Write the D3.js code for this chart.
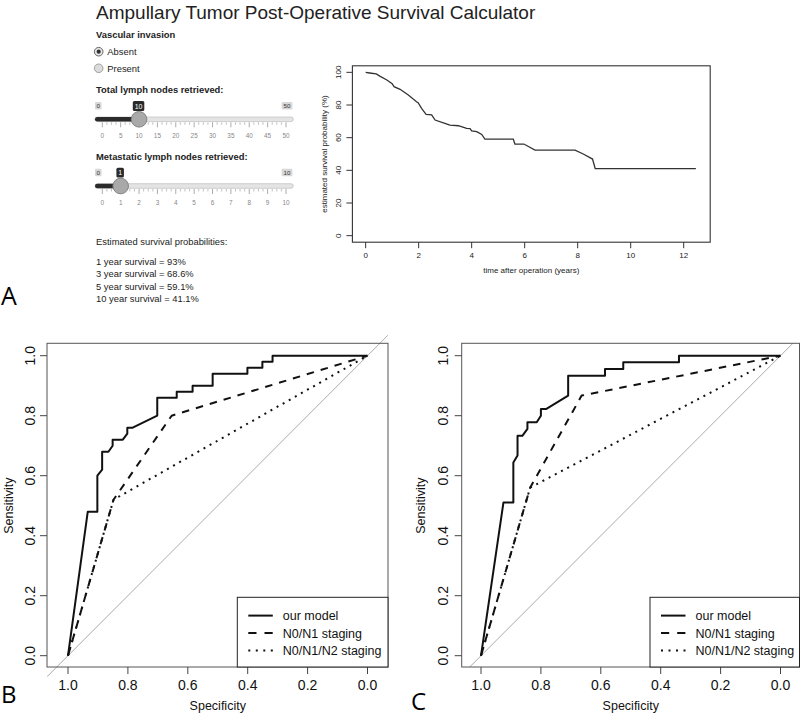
<!DOCTYPE html>
<html><head><meta charset="utf-8">
<script src="https://cdn.jsdelivr.net/npm/d3@7"></script>
<style>
body{margin:0;background:#fff}
svg{display:block}
text{font-family:"Liberation Sans",Arial,Helvetica,sans-serif}
</style>
</head><body>
<svg id="fig" width="800" height="716"></svg>
<script>
// ---------------- DATA ----------------
const titleText = "Ampullary Tumor Post-Operative Survival Calculator";
const radioLabel = "Vascular invasion";
const radioOptions = ["Absent", "Present"];
const radioSelected = 0;

const slider1Label = "Total lymph nodes retrieved:";
const slider1Ticks = [0,5,10,15,20,25,30,35,40,45,50];
const slider1Value = 10;
const slider2Label = "Metastatic lymph nodes retrieved:";
const slider2Ticks = [0,1,2,3,4,5,6,7,8,9,10];
const slider2Value = 1;

const probHeader = "Estimated survival probabilities:";
const probLines = ["1 year survival = 93%", "3 year survival = 68.6%", "5 year survival = 59.1%", "10 year survival = 41.1%"];

const survTime = [0, 0.15, 0.4, 0.55, 0.8, 1.0, 1.07, 1.3, 1.61, 1.92, 1.98, 2.11, 2.28, 2.49, 2.62, 2.99, 3.18, 3.5, 3.81, 3.94, 4.0, 4.19, 4.38, 4.5, 5.57, 5.63, 5.97, 6.39, 7.9, 8.21, 8.56, 8.66, 12.46];
const survProb = [100, 99.6, 99, 97.5, 95.3, 93, 91.2, 89.6, 86.1, 82.0, 81.4, 78.0, 74.3, 73.9, 70.8, 68.8, 67.7, 67.3, 65.7, 65.5, 64.1, 63.7, 62.0, 59.1, 59.1, 56.1, 56.1, 52.4, 52.4, 50.0, 46.9, 41.1, 41.1];
const survXTicks = [0,2,4,6,8,10,12];
const survYTicks = [0,20,40,60,80,100];
const survXLabel = "time after operation (years)";
const survYLabel = "estimated survival probability (%)";

const rocTicks = [1.0,0.8,0.6,0.4,0.2,0.0];
const legendLabels = ["our model", "N0/N1 staging", "N0/N1/N2 staging"];

// panel B  [specificity, sensitivity]
const rocBModel = [[1.0,0.0],[0.934,0.48],[0.902,0.48],[0.902,0.60],[0.886,0.62],[0.886,0.68],[0.865,0.68],[0.851,0.70],[0.851,0.72],[0.817,0.72],[0.802,0.74],[0.802,0.76],[0.784,0.76],[0.702,0.80],[0.702,0.86],[0.637,0.86],[0.637,0.88],[0.584,0.88],[0.584,0.90],[0.517,0.90],[0.517,0.94],[0.401,0.94],[0.401,0.96],[0.351,0.96],[0.351,0.98],[0.317,0.98],[0.317,1.0],[0.0,1.0]];
const rocBN01 = [[1.0,0.0],[0.848,0.52],[0.654,0.80],[0.0,1.0]];
const rocBN012 = [[1.0,0.0],[0.848,0.52],[0.0,1.0]];
// panel C
const rocCModel = [[1.0,0.0],[0.925,0.511],[0.892,0.511],[0.892,0.644],[0.878,0.667],[0.878,0.733],[0.862,0.733],[0.845,0.756],[0.845,0.778],[0.814,0.778],[0.800,0.800],[0.800,0.822],[0.783,0.822],[0.709,0.867],[0.709,0.933],[0.586,0.933],[0.586,0.956],[0.525,0.956],[0.525,0.978],[0.339,0.978],[0.339,1.0],[0.0,1.0]];
const rocCN01 = [[1.0,0.0],[0.836,0.56],[0.664,0.867],[0.0,1.0]];
const rocCN012 = [[1.0,0.0],[0.836,0.56],[0.0,1.0]];

// ---------------- DRAW ----------------
const svg = d3.select("#fig");

// Panel letters
const letterFont = '"Open Sans","Lato",sans-serif';
svg.append("text").attr("x",1).attr("y",305).attr("font-size",25).style("font-family",letterFont).text("A");
svg.append("text").attr("x",1).attr("y",703).attr("font-size",24).style("font-family",letterFont).text("B");
svg.append("text").attr("x",411).attr("y",710).attr("font-size",24).style("font-family",letterFont).text("C");

// Title
svg.append("text").attr("x",96).attr("y",18.5).attr("font-size",19).attr("fill","#222").text(titleText);

// Radio
const ui = svg.append("g");
ui.append("text").attr("x",96).attr("y",37.5).attr("font-size",9.4).attr("font-weight","bold").attr("fill","#222").text(radioLabel);
radioOptions.forEach((o,i)=>{
  const cy = 51.7 + i*16.6;
  ui.append("circle").attr("cx",98.7).attr("cy",cy).attr("r",4.3)
    .attr("fill", i===radioSelected ? "#e8e8e8" : "#dcdcdc").attr("stroke", i===radioSelected ? "#555" : "#999").attr("stroke-width",0.9);
  if(i===radioSelected) ui.append("circle").attr("cx",98.7).attr("cy",cy).attr("r",2.1).attr("fill","#333");
  ui.append("text").attr("x",107.3).attr("y",cy+3.3).attr("font-size",9.4).attr("fill","#222").text(o);
});

function slider(y0, label, ticks, value){
  const g = svg.append("g");
  const x = d3.scaleLinear().domain([ticks[0], ticks[ticks.length-1]]).range([102.3,286]);
  g.append("text").attr("x",96).attr("y",y0).attr("font-size",9.4).attr("font-weight","bold").attr("fill","#222").text(label);
  // min/max labels
  const mn = String(ticks[0]), mx = String(ticks[ticks.length-1]);
  g.append("rect").attr("x",95).attr("y",y0+8.7).attr("width",6.5).attr("height",7.5).attr("rx",1).attr("fill","#d8d8d8");
  g.append("text").attr("x",98.25).attr("y",y0+14.8).attr("text-anchor","middle").attr("font-size",6.2).attr("fill","#333").text(mn);
  g.append("rect").attr("x",281.6).attr("y",y0+8.7).attr("width",10.8).attr("height",7.5).attr("rx",1).attr("fill","#d8d8d8");
  g.append("text").attr("x",287).attr("y",y0+14.8).attr("text-anchor","middle").attr("font-size",6.2).attr("fill","#333").text(mx);
  // track
  g.append("rect").attr("x",95).attr("y",y0+23.7).attr("width",198.3).attr("height",4.6).attr("rx",2.3)
    .attr("fill","#e4e4e4").attr("stroke","#b5b5b5").attr("stroke-width",0.6);
  g.append("rect").attr("x",95).attr("y",y0+23.7).attr("width",x(value)-95).attr("height",4.6).attr("rx",2.3).attr("fill","#2b2b2b");
  // ticks
  const step = ticks[1]-ticks[0];
  ticks.forEach((t,i)=>{
    g.append("line").attr("x1",x(t)).attr("x2",x(t)).attr("y1",y0+29).attr("y2",y0+34).attr("stroke","#888").attr("stroke-width",0.7);
    g.append("text").attr("x",x(t)).attr("y",y0+45).attr("text-anchor","middle").attr("font-size",6.4).attr("fill","#888").text(t);
    if(i<ticks.length-1){
      for(let k=1;k<4;k++){
        const xm = x(t + step*k/4);
        g.append("line").attr("x1",xm).attr("x2",xm).attr("y1",y0+29).attr("y2",y0+31.5).attr("stroke","#999").attr("stroke-width",0.6);
      }
    }
  });
  // handle
  g.append("circle").attr("cx",x(value)).attr("cy",y0+26).attr("r",7.8).attr("fill","#a9a9a9").attr("stroke","#7d7d7d").attr("stroke-width",0.9);
  // value label
  const vs = String(value);
  const w = vs.length*4 + 3.5;
  g.append("rect").attr("x",x(value)-w/2-0.5).attr("y",y0+7.8).attr("width",w).attr("height",9.8).attr("rx",1.5).attr("fill","#2a2a2a");
  g.append("text").attr("x",x(value)-0.5).attr("y",y0+15.3).attr("text-anchor","middle").attr("font-size",7).attr("fill","#fff").text(vs);
}
slider(93.3, slider1Label, slider1Ticks, slider1Value);
slider(160, slider2Label, slider2Ticks, slider2Value);

svg.append("text").attr("x",96).attr("y",245).attr("font-size",9.4).attr("fill","#222").text(probHeader);
probLines.forEach((s,i)=>{
  svg.append("text").attr("x",96).attr("y",264.5+i*12.5).attr("font-size",9.4).attr("fill","#222").text(s);
});

// ---------- Survival plot ----------
{
  const g = svg.append("g");
  const x = d3.scaleLinear().domain([-0.5,13]).range([352.4,710.2]);
  const y = d3.scaleLinear().domain([-4,104]).range([242.2,65.8]);
  g.append("rect").attr("x",x(-0.5)).attr("y",y(104)).attr("width",x(13)-x(-0.5)).attr("height",y(-4)-y(104))
    .attr("fill","none").attr("stroke","#333").attr("stroke-width",1.1);
  survXTicks.forEach(t=>{
    g.append("line").attr("x1",x(t)).attr("x2",x(t)).attr("y1",y(-4)).attr("y2",y(-4)+6).attr("stroke","#333");
    g.append("text").attr("x",x(t)).attr("y",257.5).attr("text-anchor","middle").attr("font-size",8).attr("fill","#222").text(t);
  });
  survYTicks.forEach(t=>{
    g.append("line").attr("x1",x(-0.5)).attr("x2",x(-0.5)-6).attr("y1",y(t)).attr("y2",y(t)).attr("stroke","#333");
    g.append("text").attr("transform",`translate(341,${y(t)}) rotate(-90)`).attr("text-anchor","middle").attr("font-size",8).attr("fill","#222").text(t);
  });
  g.append("text").attr("x",(x(-0.5)+x(13))/2).attr("y",272.7).attr("text-anchor","middle").attr("font-size",8).attr("fill","#222").text(survXLabel);
  g.append("text").attr("transform",`translate(327,${(y(104)+y(-4))/2}) rotate(-90)`).attr("text-anchor","middle").attr("font-size",8).attr("fill","#222").text(survYLabel);
  const line = d3.line().x((d,i)=>x(survTime[i])).y((d,i)=>y(survProb[i]));
  g.append("path").attr("d",line(survTime)).attr("fill","none").attr("stroke","#333").attr("stroke-width",1.3);
}

// ---------- ROC plots ----------
const styles = [
  {dash:null},
  {dash:"7.5,7"},
  {dash:"2,5"}
];
function roc(cfg){
  const g = svg.append("g");
  const x = d3.scaleLinear().domain([1,0]).range([cfg.x1,cfg.x0]);
  const y = d3.scaleLinear().domain([0,1]).range([655.7,355.7]);
  const L = cfg.boxL, R = cfg.boxR, T = 343.3, B = 667;
  // diagonal
  const sL = x.invert(L), sR = x.invert(R);
  const clipId = "clip"+cfg.id;
  g.append("clipPath").attr("id",clipId).append("rect").attr("x",L).attr("y",cfg.diagClipT).attr("width",R-L).attr("height",cfg.diagClipB-cfg.diagClipT);
  g.append("line").attr("clip-path",`url(#${clipId})`)
    .attr("x1",L).attr("y1",y(1-sL)).attr("x2",R).attr("y2",y(1-sR))
    .attr("stroke","#aaa").attr("stroke-width",1);
  // box
  g.append("rect").attr("x",L).attr("y",T).attr("width",R-L).attr("height",B-T).attr("fill","none").attr("stroke","#555").attr("stroke-width",1);
  // ticks
  rocTicks.forEach(t=>{
    g.append("line").attr("x1",x(t)).attr("x2",x(t)).attr("y1",B).attr("y2",B+7).attr("stroke","#444");
    g.append("text").attr("x",x(t)).attr("y",690).attr("text-anchor","middle").attr("font-size",14).attr("fill","#111").text(t.toFixed(1));
    g.append("line").attr("x1",L).attr("x2",L-7).attr("y1",y(t)).attr("y2",y(t)).attr("stroke","#444");
    g.append("text").attr("transform",`translate(${cfg.yLab},${y(t)}) rotate(-90)`).attr("text-anchor","middle").attr("font-size",14).attr("fill","#111").text(t.toFixed(1));
  });
  g.append("text").attr("x",(x(1)+x(0))/2).attr("y",710).attr("text-anchor","middle").attr("font-size",12.5).attr("fill","#111").text("Specificity");
  g.append("text").attr("transform",`translate(${cfg.yTitle},${(y(0)+y(1))/2}) rotate(-90)`).attr("text-anchor","middle").attr("font-size",12.5).attr("fill","#111").text("Sensitivity");
  // curves
  const line = d3.line().x(d=>x(d[0])).y(d=>y(d[1]));
  [cfg.model,cfg.n01,cfg.n012].forEach((data,i)=>{
    const p = g.append("path").attr("d",line(data)).attr("fill","none").attr("stroke","#111").attr("stroke-width",2).attr("stroke-linejoin","round");
    if(styles[i].dash) p.attr("stroke-dasharray",styles[i].dash);
  });
  // legend
  const lg = g.append("g");
  lg.append("rect").attr("x",cfg.legX).attr("y",597.3).attr("width",R-cfg.legX).attr("height",B-597.3).attr("fill","#fff").attr("stroke","#222").attr("stroke-width",1);
  legendLabels.forEach((s,i)=>{
    const cy = 615.6 + i*17.5;
    const ln = lg.append("line").attr("x1",cfg.legX+11).attr("x2",cfg.legX+35.5).attr("y1",cy).attr("y2",cy).attr("stroke","#111").attr("stroke-width",2);
    if(i===1) ln.attr("stroke-dasharray","8.2,8");
    if(i===2) ln.attr("stroke-dasharray","2,5.5");
    lg.append("text").attr("x",cfg.legX+45.5).attr("y",cy+4.6).attr("font-size",12.5).attr("fill","#111").text(s);
  });
}
roc({id:"B", x1:68, x0:367.5, boxL:47, boxR:388, yLab:35, yTitle:13, legX:237.3,
     diagClipT:330, diagClipB:690, model:rocBModel, n01:rocBN01, n012:rocBN012});
roc({id:"C", x1:481, x0:780.5, boxL:461.7, boxR:799.5, yLab:447.5, yTitle:424.5, legX:650,
     diagClipT:343.3, diagClipB:667, model:rocCModel, n01:rocCN01, n012:rocCN012});
</script>
</body></html>
